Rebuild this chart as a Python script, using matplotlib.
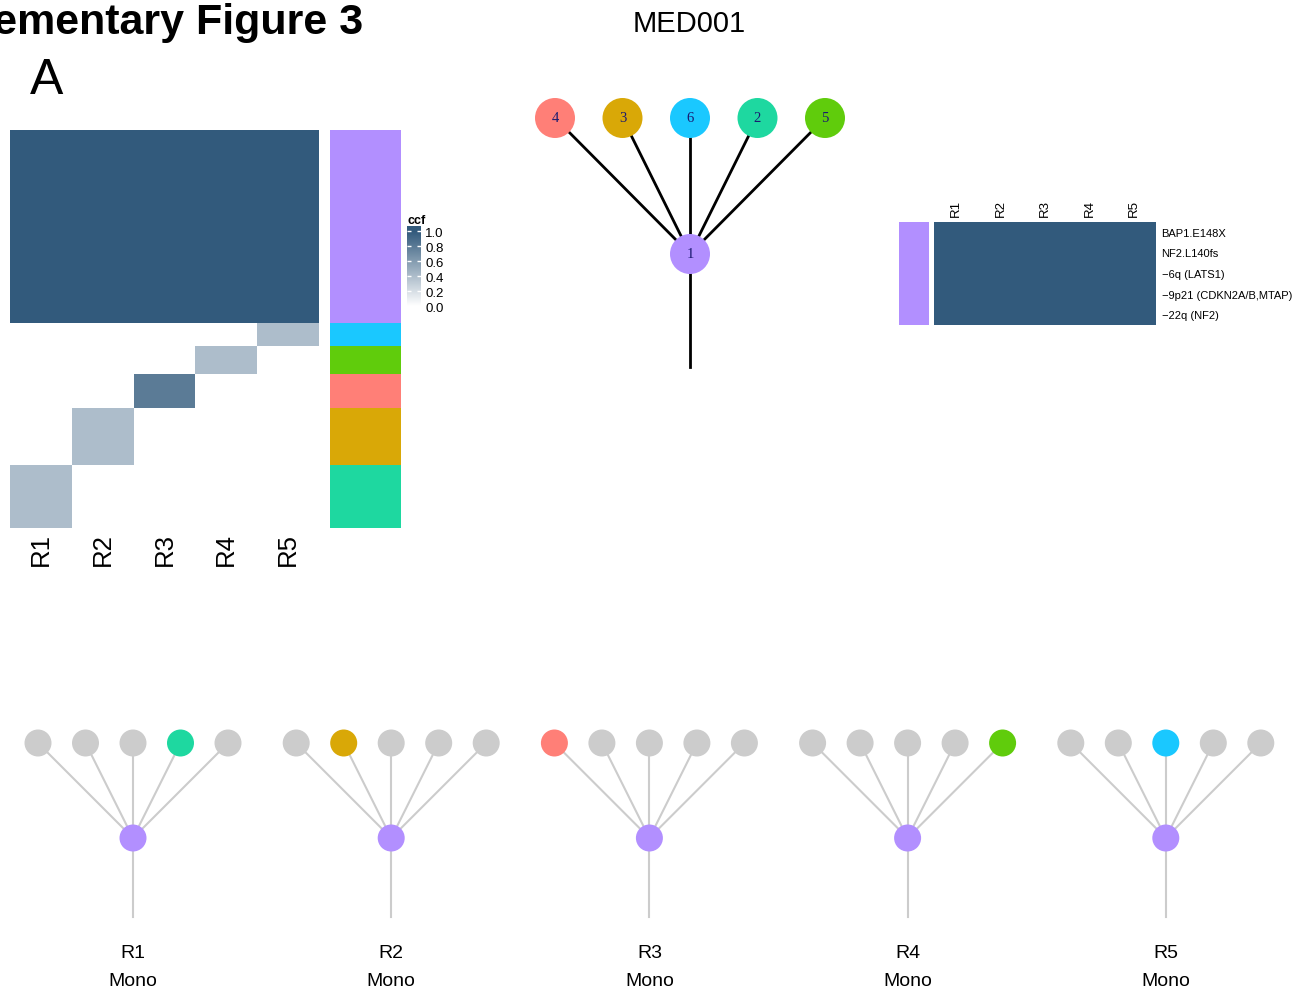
import numpy as np
import matplotlib
matplotlib.use("Agg")
import matplotlib.pyplot as plt
from matplotlib.colors import LinearSegmentedColormap, ListedColormap
from matplotlib.patches import Circle

plt.rcParams['font.family'] = ['Liberation Sans', 'DejaVu Sans']

# clone ids, parents and colours of the MED001 tree
clone_ids = [1, 4, 3, 6, 2, 5]
clone_parent = [0, 1, 1, 1, 1, 1]
clone_colors = {1: '#B28FFF', 2: '#1ED8A0', 3: '#D9A807', 4: '#FF7F77',
                5: '#60CC0C', 6: '#1AC8FF'}

# left heatmap: clusters (top to bottom), number of mutations, ccf per region
regions = ['R1', 'R2', 'R3', 'R4', 'R5']
cluster_order = [1, 6, 5, 4, 3, 2]
cluster_sizes = [34, 4, 5, 6, 10, 11]
cluster_ccf = [
    [1.0, 1.0, 1.0, 1.0, 1.0],
    [0.0, 0.0, 0.0, 0.0, 0.4],
    [0.0, 0.0, 0.0, 0.4, 0.0],
    [0.0, 0.0, 0.8, 0.0, 0.0],
    [0.0, 0.4, 0.0, 0.0, 0.0],
    [0.4, 0.0, 0.0, 0.0, 0.0],
]
ccf_ticks = [0.0, 0.2, 0.4, 0.6, 0.8, 1.0]

# right heatmap: truncal driver events
drivers = ['BAP1.E148X', 'NF2.L140fs', '\u22126q (LATS1)',
           '\u22129p21 (CDKN2A/B,MTAP)', '\u221222q (NF2)']
driver_ccf = [[1.0] * 5 for _ in drivers]
driver_cluster = [1, 1, 1, 1, 1]

# per-region trees: which clone is present besides the trunk
region_clone = [2, 3, 4, 5, 6]
region_type = ['Mono'] * 5

W, H = 1307, 995
fig = plt.figure(figsize=(W / 100, H / 100), dpi=100)
ccf_cmap = LinearSegmentedColormap.from_list('ccf', ['#FFFFFF', '#325A7C'])


def px_axes(x0, y0, x1, y1):
    return fig.add_axes([x0 / W, 1 - y1 / H, (x1 - x0) / W, (y1 - y0) / H])


def clean(ax):
    for s in ax.spines.values():
        s.set_visible(False)
    ax.tick_params(length=0)


# ---- left ccf heatmap
yedges = np.concatenate([[0], np.cumsum(cluster_sizes)])
ax = px_axes(10, 130.5, 319, 528.5)
ax.pcolormesh(np.arange(len(regions) + 1), yedges, np.array(cluster_ccf),
              cmap=ccf_cmap, vmin=0, vmax=1)
ax.set_ylim(yedges[-1], 0)
ax.set_xticks(np.arange(len(regions)) + 0.5)
ax.set_xticklabels(regions, rotation=90, fontsize=18.5)
ax.set_yticks([])
ax.tick_params(axis='x', pad=3)
clean(ax)

ax = px_axes(330, 130.5, 401, 528.5)
ax.pcolormesh([0, 1], yedges, np.arange(len(cluster_order))[:, None],
              cmap=ListedColormap([clone_colors[c] for c in cluster_order]))
ax.set_ylim(yedges[-1], 0)
ax.set_xticks([])
ax.set_yticks([])
clean(ax)

# legend bar runs a little past the 0 and 1 ticks
lo, hi = -0.04, 1.067
cax = px_axes(407, 227, 421, 310)
cax.imshow(np.linspace(lo, hi, 200)[:, None], extent=[0, 1, lo, hi],
           origin='lower', aspect='auto', cmap=ccf_cmap, vmin=0, vmax=1)
cax.set_ylim(lo, hi)
cax.set_xticks([])
cax.yaxis.tick_right()
cax.set_yticks(ccf_ticks)
cax.set_yticklabels(['%.1f' % t for t in ccf_ticks], fontsize=9.5)
for s in cax.spines.values():
    s.set_visible(False)
cax.tick_params(direction='in', color='white', length=3, width=1,
                left=True, right=True, pad=3)
cax.set_title('ccf', fontsize=9, fontweight='bold', loc='left', pad=2)

# ---- right driver heatmap
ax = px_axes(899, 222.5, 929, 325.5)
ax.pcolormesh([0, 1], np.arange(len(drivers) + 1), np.array(driver_cluster)[:, None],
              cmap=ListedColormap([clone_colors[1]]))
ax.set_xticks([])
ax.set_yticks([])
clean(ax)

ax = px_axes(934, 222.5, 1156, 325.5)
ax.pcolormesh(np.arange(len(regions) + 1), np.arange(len(drivers) + 1),
              np.array(driver_ccf), cmap=ccf_cmap, vmin=0, vmax=1)
ax.set_ylim(len(drivers), 0)
ax.xaxis.tick_top()
ax.yaxis.tick_right()
ax.set_xticks(np.arange(len(regions)) + 0.5)
ax.set_xticklabels(regions, rotation=90, fontsize=9.5)
ax.set_yticks(np.arange(len(drivers)) + 0.5)
ax.set_yticklabels(drivers, fontsize=8)
ax.tick_params(pad=4)
clean(ax)

# ---- trees on a full-figure overlay in pixel units
tx = fig.add_axes([0, 0, 1, 1])
tx.set_xlim(0, W)
tx.set_ylim(H, 0)
tx.axis('off')
tx.patch.set_alpha(0)


def tree_layout(cx, root_y, leaf_y, spacing):
    kids = [c for c, p in zip(clone_ids, clone_parent) if p == 1]
    pos = {1: (cx, root_y)}
    for i, c in enumerate(kids):
        pos[c] = (cx + (i - (len(kids) - 1) / 2) * spacing, leaf_y)
    return pos


# main tree
pos = tree_layout(690, 255, 119, 67.5)
tx.plot([690, 690], [255, 368], color='black', lw=2, zorder=1)
for c, p in zip(clone_ids, clone_parent):
    x, y = pos[c]
    if p:
        tx.plot([pos[p][0], x], [pos[p][1], y], color='black', lw=2, zorder=1)
    tx.add_patch(Circle((x, y), 20, color=clone_colors[c], zorder=2, lw=0))
    tx.text(x, y, str(c), ha='center', va='center', fontsize=10.5,
            family='Liberation Serif', color='#1A1A70', zorder=3)

tx.text(689, 24, 'MED001', ha='center', va='center', fontsize=21)

# one tree per region
for k, (reg, clone) in enumerate(zip(regions, region_clone)):
    cx = 133 + k * 258.2
    pos = tree_layout(cx, 839, 744, 47.5)
    tx.plot([cx, cx], [839, 918], color='#CCCCCC', lw=1.5, zorder=1)
    for c, p in zip(clone_ids, clone_parent):
        x, y = pos[c]
        if p:
            tx.plot([pos[p][0], x], [pos[p][1], y], color='#CCCCCC', lw=1.5, zorder=1)
        col = clone_colors[c] if c in (1, clone) else '#CCCCCC'
        tx.add_patch(Circle((x, y), 13.5, color=col, zorder=2, lw=0))
    tx.text(cx, 953, reg, ha='center', va='center', fontsize=14)
    tx.text(cx, 981, region_type[k], ha='center', va='center', fontsize=14)

fig.text(363 / W, 1 - 34 / H, 'Supplementary Figure 3', ha='right', va='baseline',
         fontsize=31, fontweight='bold')
fig.text(30 / W, 1 - 94 / H, 'A', ha='left', va='baseline', fontsize=36)

fig.savefig('out.png', dpi=100)
